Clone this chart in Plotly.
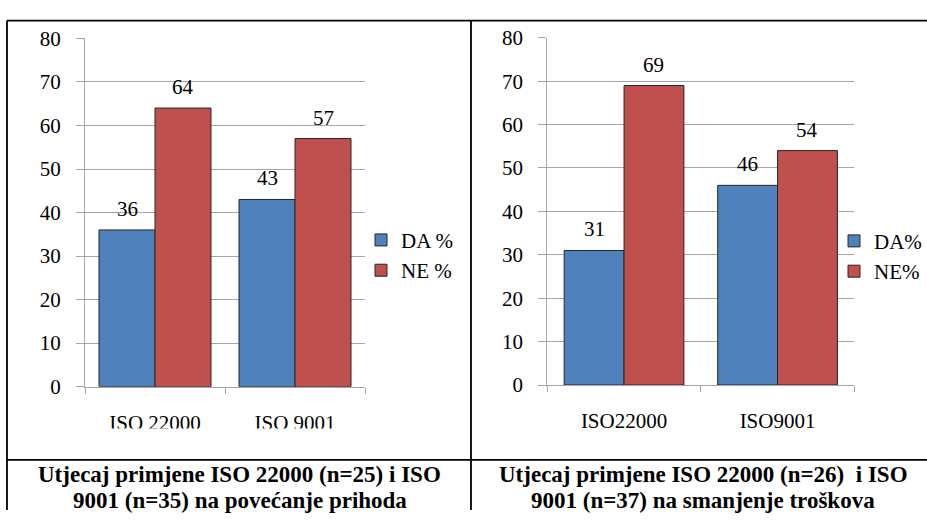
import plotly.graph_objects as go

# Survey shares (%) – left panel: revenue increase, right panel: cost reduction
categories_left = ["ISO 22000", "ISO 9001"]
da_left = [36, 43]
ne_left = [64, 57]
series_left = ["DA %", "NE %"]

categories_right = ["ISO22000", "ISO9001"]
da_right = [31, 46]
ne_right = [69, 54]
series_right = ["DA%", "NE%"]

y_ticks = [0, 10, 20, 30, 40, 50, 60, 70, 80]

caption_left = ["Utjecaj primjene ISO 22000 (n=25) i ISO",
                "9001 (n=35) na povećanje prihoda"]
caption_right = ["Utjecaj primjene ISO 22000 (n=26)\u00a0 i ISO",
                 "9001 (n=37) na smanjenje troškova"]

W, H = 927, 522
BLUE, RED = "#4F81BD", "#C0504D"
EDGE = "#262626"
GRID = "#A6A6A6"
SERIF = "Liberation Serif, Times New Roman, serif"


def px(x):
    return x / W


def py(y):
    return 1 - y / H


fig = go.Figure()

panels = [
    dict(xa="x", ya="y", leg="legend", cats=categories_left,
         vals=[da_left, ne_left], names=series_left, bw=0.40),
    dict(xa="x2", ya="y2", leg="legend2", cats=categories_right,
         vals=[da_right, ne_right], names=series_right, bw=0.39),
]

annotations = []
for p in panels:
    for k, (vals, name, color) in enumerate(zip(p["vals"], p["names"], [BLUE, RED])):
        offset = -p["bw"] + k * p["bw"]
        fig.add_trace(go.Bar(
            x=p["cats"], y=vals, name=name,
            xaxis=p["xa"], yaxis=p["ya"], legend=p["leg"],
            width=p["bw"], offset=offset,
            marker=dict(color=color, line=dict(color=EDGE, width=1)),
            hoverinfo="x+y+name",
        ))
        # value labels above each bar
        for i, v in enumerate(vals):
            annotations.append(dict(
                x=i + offset + p["bw"] / 2, y=v,
                xref=p["xa"], yref=p["ya"],
                text=str(v), showarrow=False,
                yanchor="middle", yshift=21,
                font=dict(family=SERIF, size=21, color="#000"),
            ))

# captions in the bottom row of the table
for lines, cx in [(caption_left, 240), (caption_right, 703)]:
    for j, line in enumerate(lines):
        annotations.append(dict(
            x=px(cx), y=py(485 + j * 26.7), xref="paper", yref="paper",
            text="<b>" + line + "</b>", showarrow=False,
            xanchor="center", yanchor="middle",
            font=dict(family=SERIF, size=23, color="#000"),
        ))

xaxis_common = dict(
    type="category", showgrid=False, showline=True, linecolor=GRID, linewidth=1,
    ticks="outside", tickson="boundaries", ticklen=6, tickcolor=GRID, tickwidth=1,
    tickfont=dict(family=SERIF, size=21, color="#000"),
    ticklabelstandoff=17, fixedrange=True,
)
yaxis_common = dict(
    range=[0, 80], tickvals=y_ticks, showgrid=True, gridcolor=GRID, gridwidth=1,
    showline=True, linecolor=GRID, linewidth=1, zeroline=False,
    ticks="outside", ticklen=8, tickcolor=GRID, tickwidth=1,
    tickfont=dict(family=SERIF, size=21, color="#000"),
    ticklabelstandoff=11, fixedrange=True,
)

legend_common = dict(
    font=dict(family=SERIF, size=21, color="#000"),
    bgcolor="rgba(0,0,0,0)", borderwidth=0, itemwidth=30,
    xanchor="left", yanchor="middle", tracegroupgap=0,
)

shapes = []
# white masks that trim the lower edge of the category labels
for x0, x1 in [(9, 469), (473, 927)]:
    shapes.append(dict(type="rect", xref="paper", yref="paper",
                       x0=px(x0), x1=px(x1), y0=py(468), y1=py(436.5),
                       fillcolor="white", line=dict(width=0), layer="above"))
# table borders
border = dict(color="#000", width=1.8)
for x0, y0, x1, y1 in [(7, 9, 927, 9), (7, 9, 7, 522), (471, 9, 471, 522), (7, 469.5, 927, 469.5)]:
    shapes.append(dict(type="line", xref="paper", yref="paper",
                       x0=px(x0), y0=py(y0), x1=px(x1), y1=py(y1),
                       line=border, layer="above"))

fig.update_layout(
    width=W, height=H, margin=dict(l=0, r=0, t=0, b=0),
    paper_bgcolor="white", plot_bgcolor="white",
    barmode="group",
    xaxis=dict(xaxis_common, domain=[px(85), px(365)], anchor="y"),
    yaxis=dict(yaxis_common, domain=[py(392.7), py(27.7)], anchor="x"),
    xaxis2=dict(xaxis_common, domain=[px(547.3), px(854.3)], anchor="y2"),
    yaxis2=dict(yaxis_common, domain=[py(391), py(27)], anchor="x2"),
    legend=dict(legend_common, x=px(361), y=py(255)),
    legend2=dict(legend_common, x=px(834), y=py(256)),
    annotations=annotations,
    shapes=shapes,
    showlegend=True,
)

fig.write_html("out.html")
